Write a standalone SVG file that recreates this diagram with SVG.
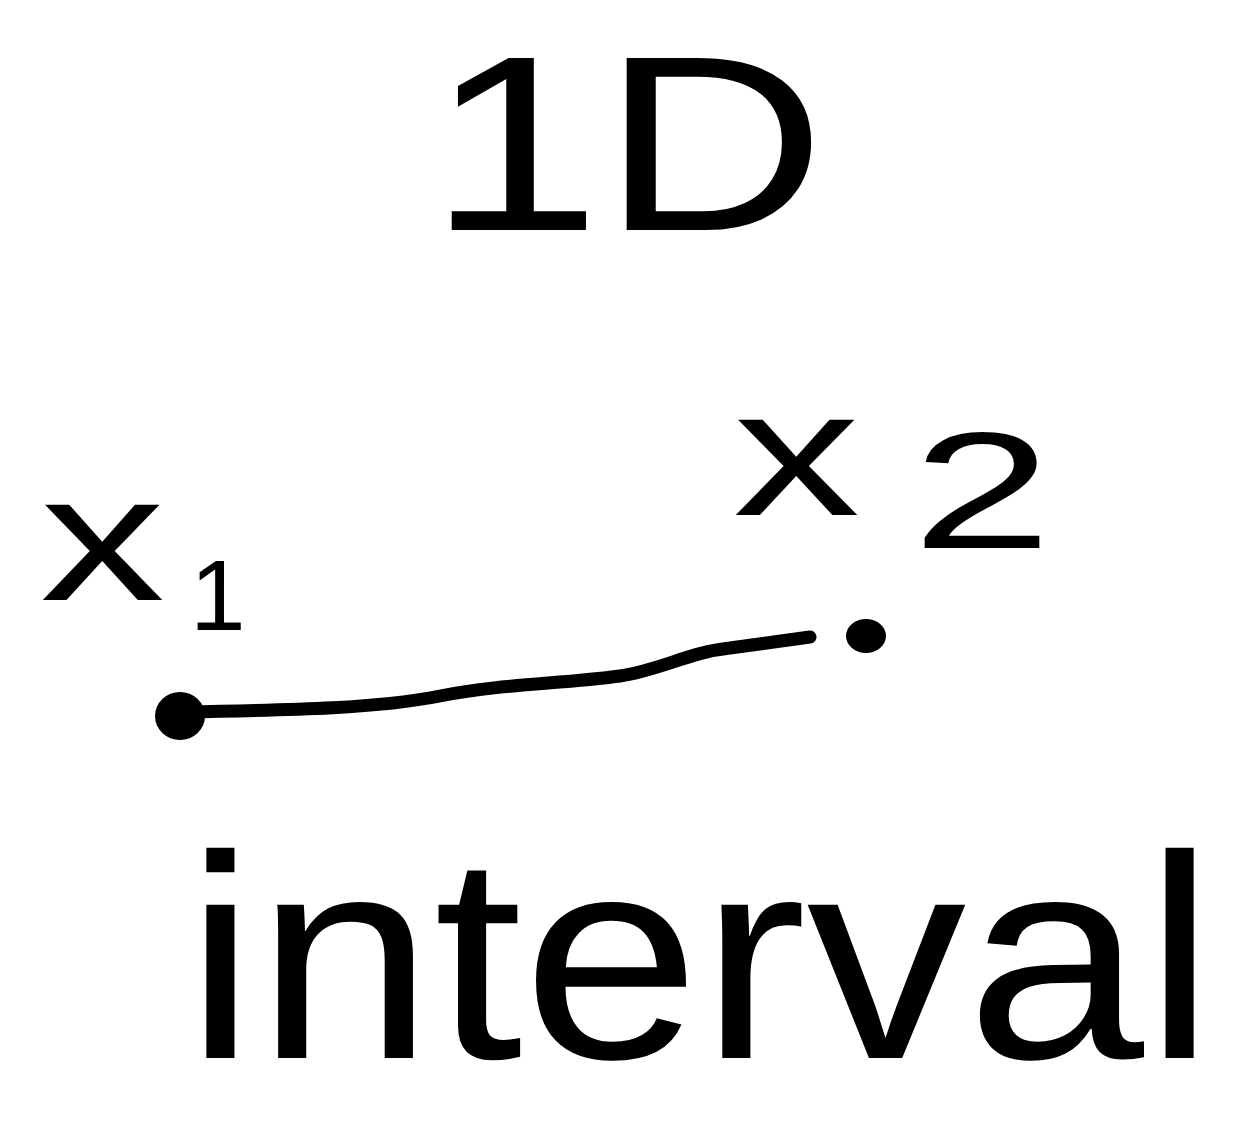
<svg xmlns="http://www.w3.org/2000/svg" width="1250" height="1123" viewBox="0 0 1250 1123">
<style>
.hw{font-family:"Liberation Sans","DejaVu Sans",sans-serif;fill:#000}
.ln{fill:none;stroke:#000;stroke-width:13;stroke-linecap:round;stroke-linejoin:round}
</style>
<rect width="1250" height="1123" fill="#fff"/>
<g id="title">
<text class="hw" x="428" y="230" font-size="250" textLength="398" lengthAdjust="spacingAndGlyphs">1D</text>
</g>
<g id="x1-label">
<text class="hw" x="40" y="600" font-size="180" textLength="125" lengthAdjust="spacingAndGlyphs">x</text>
<text class="hw" x="190" y="630" font-size="100">1</text>
</g>
<g id="x2-label">
<text class="hw" x="733" y="515" font-size="180" textLength="127" lengthAdjust="spacingAndGlyphs">x</text>
<text class="hw" x="912" y="548" font-size="165" textLength="140" lengthAdjust="spacingAndGlyphs">2</text>
</g>
<g id="connectors">
<path class="ln" d="M180,712 C300,710 380,708 440,696 C500,684 560,684 620,676 C660,670 690,652 730,648 L810,637"/>
</g>
<g id="x1-point"><ellipse cx="180" cy="716" rx="25" ry="24" fill="#000"/></g>
<g id="x2-point"><ellipse cx="866" cy="636" rx="20" ry="17" fill="#000"/></g>
<g id="interval-label">
<text class="hw" x="185" y="1058" font-size="290" textLength="1030" lengthAdjust="spacingAndGlyphs">interval</text>
</g>
</svg>
